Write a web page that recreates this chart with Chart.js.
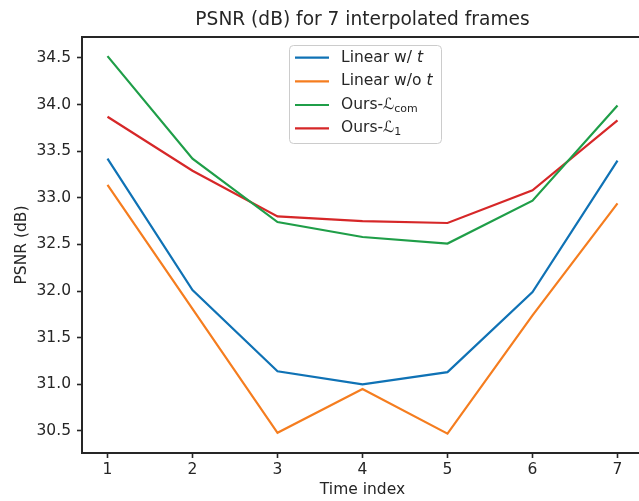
<!DOCTYPE html>
<html>
<head>
<meta charset="utf-8">
<script src="https://cdn.jsdelivr.net/npm/chart.js@4.4.0/dist/chart.umd.min.js"></script>
<style>
    html, body { margin: 0; padding: 0; overflow: hidden; background: #fff; }
    #wrap { position: relative; width: 660px; height: 501px; }
</style>
</head>
<body>
<div id="wrap"><canvas id="grafico" width="660" height="501"></canvas></div>
<script>
// Dados
const indices = [1, 2, 3, 4, 5, 6, 7];
const linearComT = [33.42, 32.01, 31.14, 31.00, 31.13, 31.99, 33.40];
const linearSemT = [33.14, 31.81, 30.48, 30.95, 30.47, 31.74, 32.94];
const oursCom = [34.52, 33.42, 32.74, 32.58, 32.51, 32.97, 33.99];
const oursL1 = [33.87, 33.29, 32.80, 32.75, 32.73, 33.08, 33.83];
const yTicks = [30.5, 31.0, 31.5, 32.0, 32.5, 33.0, 33.5, 34.0, 34.5];

const FONTE = "DejaVu Sans";
const COR_EIXO = "#262626";
const cores = ["#0f72b5", "#f57d1f", "#1f9e48", "#d62728"];

const pontos = arr => arr.map((v, i) => ({ x: indices[i], y: v }));

// Legenda com texto misto (itálico, subscrito)
const legendaItens = [
    [{ t: "Linear w/ " }, { t: "t", it: true }],
    [{ t: "Linear w/o " }, { t: "t", it: true }],
    [{ t: "Ours-" }, { t: "\u2112" }, { t: "com", sub: true }],
    [{ t: "Ours-" }, { t: "\u2112" }, { t: "1", sub: true }]
];

const extras = {
    id: "extras",
    afterDraw(chart) {
        const ctx = chart.ctx;
        const a = chart.chartArea;
        ctx.save();

        // borda superior
        ctx.strokeStyle = COR_EIXO;
        ctx.lineWidth = 2;
        ctx.beginPath();
        ctx.moveTo(a.left - 1, a.top);
        ctx.lineTo(a.right + 1, a.top);
        ctx.stroke();

        // título
        ctx.fillStyle = COR_EIXO;
        ctx.font = `18.6px "${FONTE}"`;
        ctx.textAlign = "center";
        ctx.textBaseline = "middle";
        ctx.fillText("PSNR (dB) for 7 interpolated frames", (a.left + a.right) / 2, 20);

        // legenda
        ctx.fillStyle = "rgba(255,255,255,0.85)";
        ctx.strokeStyle = "#cccccc";
        ctx.lineWidth = 1;
        ctx.beginPath();
        ctx.roundRect(289.5, 45.5, 152, 98, 4);
        ctx.fill();
        ctx.stroke();

        const ys = [57.7, 81.3, 105, 128.3];
        legendaItens.forEach((item, i) => {
            ctx.strokeStyle = cores[i];
            ctx.lineWidth = 2.2;
            ctx.beginPath();
            ctx.moveTo(295, ys[i]);
            ctx.lineTo(329, ys[i]);
            ctx.stroke();

            let x = 341;
            ctx.textAlign = "left";
            ctx.textBaseline = "middle";
            ctx.fillStyle = COR_EIXO;
            item.forEach(seg => {
                let dy = 0;
                if (seg.it) ctx.font = `italic 15.5px "${FONTE}"`;
                else if (seg.sub) { ctx.font = `11px "${FONTE}"`; dy = 4; }
                else ctx.font = `15.5px "${FONTE}"`;
                ctx.fillText(seg.t, x, ys[i] + dy);
                x += ctx.measureText(seg.t).width;
            });
        });
        ctx.restore();
    }
};

new Chart(document.getElementById("grafico"), {
    type: "line",
    data: {
        datasets: [
            { label: "Linear w/ t", data: pontos(linearComT) },
            { label: "Linear w/o t", data: pontos(linearSemT) },
            { label: "Ours-Lcom", data: pontos(oursCom) },
            { label: "Ours-L1", data: pontos(oursL1) }
        ].map((d, i) => ({
            ...d,
            borderColor: cores[i],
            backgroundColor: cores[i],
            borderWidth: 2.2,
            pointRadius: 0,
            tension: 0,
            fill: false
        }))
    },
    options: {
        responsive: false,
        animation: false,
        devicePixelRatio: 1,
        layout: { padding: { top: 37, right: 17, left: 0, bottom: 0 } },
        plugins: {
            legend: { display: false },
            tooltip: { enabled: false },
            title: { display: false }
        },
        scales: {
            x: {
                type: "linear",
                min: 0.7,
                max: 7.3,
                afterBuildTicks: s => { s.ticks = indices.map(v => ({ value: v })); },
                afterFit: s => { s.height = 48; },
                ticks: {
                    color: COR_EIXO,
                    font: { family: FONTE, size: 15.5 },
                    padding: 3,
                    maxRotation: 0,
                    callback: v => String(v)
                },
                grid: {
                    drawOnChartArea: false,
                    drawTicks: true,
                    tickLength: 5,
                    tickWidth: 1.6,
                    tickColor: COR_EIXO
                },
                border: { color: COR_EIXO, width: 2 },
                title: {
                    display: true,
                    text: "Time index",
                    color: COR_EIXO,
                    font: { family: FONTE, size: 15.5 },
                    padding: { top: 0, bottom: 2 }
                }
            },
            y: {
                min: 30.263,
                max: 34.725,
                afterBuildTicks: s => { s.ticks = yTicks.map(v => ({ value: v })); },
                afterFit: s => { s.width = 82; },
                ticks: {
                    color: COR_EIXO,
                    font: { family: FONTE, size: 15.5 },
                    padding: 6,
                    callback: v => Number(v).toFixed(1)
                },
                grid: {
                    drawOnChartArea: false,
                    drawTicks: true,
                    tickLength: 5,
                    tickWidth: 1.6,
                    tickColor: COR_EIXO
                },
                border: { color: COR_EIXO, width: 2 },
                title: {
                    display: true,
                    text: "PSNR (dB)",
                    color: COR_EIXO,
                    font: { family: FONTE, size: 15.5 },
                    padding: { top: 13, bottom: 0 }
                }
            }
        }
    },
    plugins: [extras]
});
</script>
</body>
</html>
